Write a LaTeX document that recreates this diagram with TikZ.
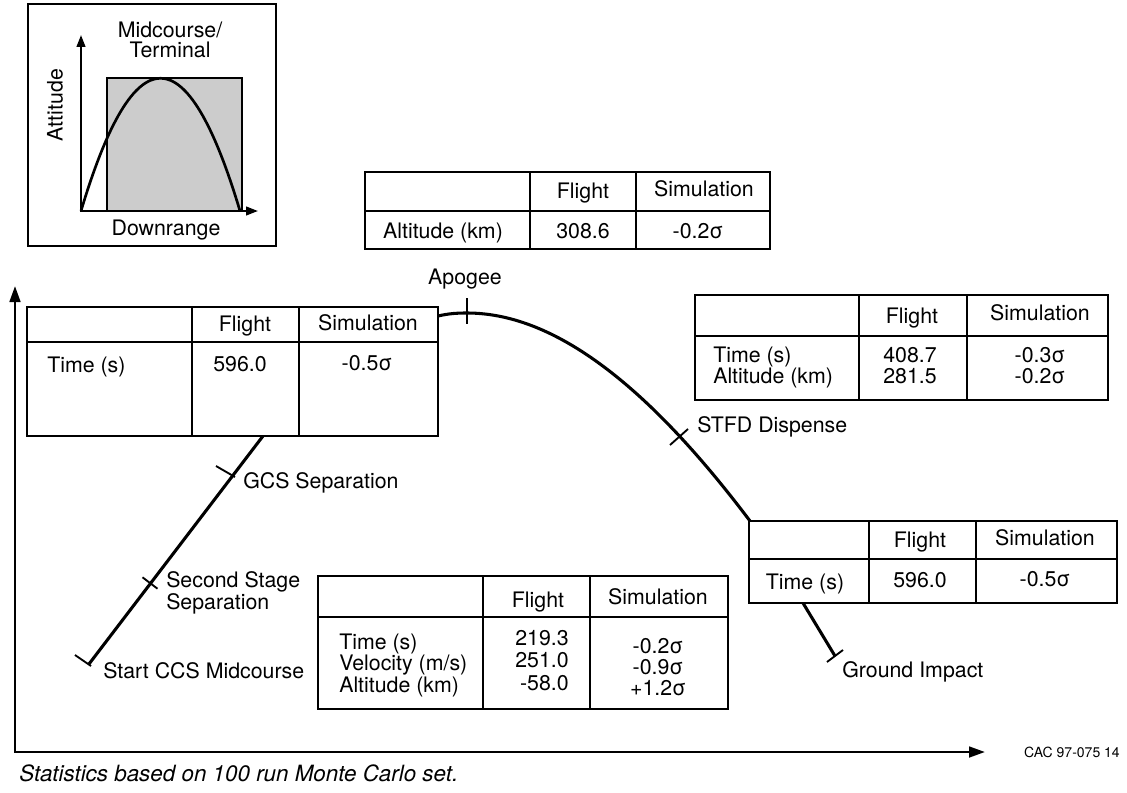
\documentclass[tikz,border=0pt]{standalone}
\usepackage{fontspec}
\setmainfont{TeX Gyre Heros}
\usetikzlibrary{arrows.meta,calc}
\begin{document}
\begin{tikzpicture}[x=0.75pt,y=-0.75pt,
  txt/.style={inner sep=0pt, font=\fontsize{16}{18}\selectfont, text height=11.4pt, text depth=0pt},
  captxt/.style={inner sep=0pt, font=\fontsize{16.8}{18}\selectfont\itshape, text height=12pt, text depth=0pt},
  smalltxt/.style={inner sep=0pt, font=\fontsize{10.5}{12}\selectfont},
  tbl/.style={line width=2pt},
  traj/.style={line width=2.3pt},
  tickmark/.style={line width=1.4pt},
  bigarrow/.style={line width=2pt, {Triangle[length=12pt,width=8pt]}-{Triangle[length=12pt,width=8pt]}},
  smallarrow/.style={line width=1.6pt, {Triangle[length=9pt,width=6.5pt]}-{Triangle[length=9pt,width=6.5pt]}}]
\useasboundingbox (0,0) rectangle (1127,792);

% ---------- inset ----------
\draw[line width=1.5pt] (28,4) rectangle (276,246);
\fill[black!20] (107,78) rectangle (242,211);
\draw[line width=1.2pt] (107,78) rectangle (242,211);
\coordinate (iy) at (81,35);
\coordinate (io) at (81,211);
\coordinate (ix) at (258,211);
\coordinate (iend) at (240,211);
\draw[line width=2pt] (io) .. controls (134,34) and (187,34) .. (iend);
\draw[smallarrow] (iy) -- (io) -- (ix);
\node[txt] (mid) at (170,30) {Midcourse/};
\node[txt] (term) at (170,50) {Terminal};
\node[txt, rotate=90] (att) at (55,105) {Attitude};
\node[txt] (down) at (166,228) {Downrange};

% ---------- main axes ----------
\coordinate (ay) at (15,286);
\coordinate (ao) at (15,752);
\coordinate (ax) at (985,752);
\draw[bigarrow] (ay) -- (ao) -- (ax);
\node[smalltxt, anchor=east] (cac) at (1120,752) {CAC 97-075 14};
\node[captxt, anchor=west] (cap) at (19,773) {Statistics based on 100 run Monte Carlo set.};

% ---------- table 1 (top left) ----------
\draw[tbl] (27,307) rectangle (438,436);
\draw[tbl] (27,342) -- (438,342);
\draw[tbl] (192,307) -- (192,436);
\draw[tbl] (299,307) -- (299,436);
\node[txt] (f1) at (245,324) {Flight};
\node[txt] (s1) at (368,323) {Simulation};
\node[txt, anchor=west] (r1) at (47,365) {Time (s)};
\node[txt] (v1) at (240,364) {596.0};
\node[txt] (w1) at (367,363) {-0.5σ};

% ---------- apogee table ----------
\draw[tbl] (365,172) rectangle (770,249);
\draw[tbl] (365,211) -- (770,211);
\draw[tbl] (530,172) -- (530,249);
\draw[tbl] (636,172) -- (636,249);
\node[txt] (f2) at (583,191) {Flight};
\node[txt] (s2) at (704,189) {Simulation};
\node[txt] (r2) at (443,231) {Altitude (km)};
\node[txt] (v2) at (583,231) {308.6};
\node[txt] (w2) at (698,231) {-0.2σ};
\node[txt] (apolab) at (465,277) {Apogee};

% ---------- STFD table ----------
\draw[tbl] (695,295) rectangle (1108,400);
\draw[tbl] (695,336) -- (1108,336);
\draw[tbl] (859,295) -- (859,400);
\draw[tbl] (967,295) -- (967,400);
\node[txt] (f3) at (912,316) {Flight};
\node[txt] (s3) at (1040,313) {Simulation};
\node[txt, anchor=west] (r3a) at (713,355) {Time (s)};
\node[txt, anchor=west] (r3b) at (713,376) {Altitude (km)};
\node[txt] (v3a) at (910,355) {408.7};
\node[txt] (v3b) at (910,376) {281.5};
\node[txt] (w3a) at (1040,355) {-0.3σ};
\node[txt] (w3b) at (1040,376) {-0.2σ};
\node[txt, anchor=west] (stfd) at (697,425) {STFD Dispense};

% ---------- ground impact table ----------
\draw[tbl] (749,521) rectangle (1117,603);
\draw[tbl] (749,559) -- (1117,559);
\draw[tbl] (869,521) -- (869,603);
\draw[tbl] (976,521) -- (976,603);
\node[txt] (f4) at (920,540) {Flight};
\node[txt] (s4) at (1045,538) {Simulation};
\node[txt] (r4) at (805,582) {Time (s)};
\node[txt] (v4) at (920,580) {596.0};
\node[txt] (w4) at (1045,579) {-0.5σ};
\node[txt, anchor=west] (gimp) at (842,670) {Ground Impact};

% ---------- middle table ----------
\draw[tbl] (318,576) rectangle (728,709);
\draw[tbl] (318,617) -- (728,617);
\draw[tbl] (483,576) -- (483,709);
\draw[tbl] (590,576) -- (590,709);
\node[txt] (f5) at (538,600) {Flight};
\node[txt] (s5) at (658,597) {Simulation};
\node[txt, anchor=west] (r5a) at (339,642) {Time (s)};
\node[txt, anchor=west] (r5b) at (339,663) {Velocity (m/s)};
\node[txt, anchor=west] (r5c) at (339,685) {Altitude (km)};
\node[txt, anchor=east] (v5a) at (569,638) {219.3};
\node[txt, anchor=east] (v5b) at (569,660) {251.0};
\node[txt, anchor=east] (v5c) at (569,683) {-58.0};
\node[txt] (w5a) at (658,646) {-0.2σ};
\node[txt] (w5b) at (658,667) {-0.9σ};
\node[txt] (w5c) at (658,688) {+1.2σ};

% ---------- trajectory ----------
\coordinate (start) at (89,664);
\coordinate (t1b) at (263,436);
\coordinate (t1r) at (438,316);
\coordinate (apo) at (467,313);
\coordinate (g1) at (750,521);
\coordinate (g2) at (803,603);
\coordinate (imp) at (835,656);
\draw[traj] (start) -- (t1b);
\draw[traj] (t1r) .. controls (449,313.5) and (457,313) .. (apo)
  .. controls (560,313) and (655,395) .. (g1);
\draw[traj] (g2) -- (imp);

% ticks
\draw[tickmark] (467,298) -- (467,324);
\draw[tickmark] (670,445) -- (688,429);
\draw[tickmark] (827,662) -- (843,650);
\draw[tickmark] (75,655) -- (91,666);
\draw[tickmark] (142.5,577.3) -- (157.5,588.7);
\draw[tickmark] (216,466) -- (235,477);

% trajectory labels
\node[txt, anchor=west] (gcs) at (243,481) {GCS Separation};
\node[txt, anchor=west] (sss1) at (166,580) {Second Stage};
\node[txt, anchor=west] (sss2) at (166,602) {Separation};
\node[txt, anchor=west] (ccs) at (103,671) {Start CCS Midcourse};
\end{tikzpicture}
\end{document}
